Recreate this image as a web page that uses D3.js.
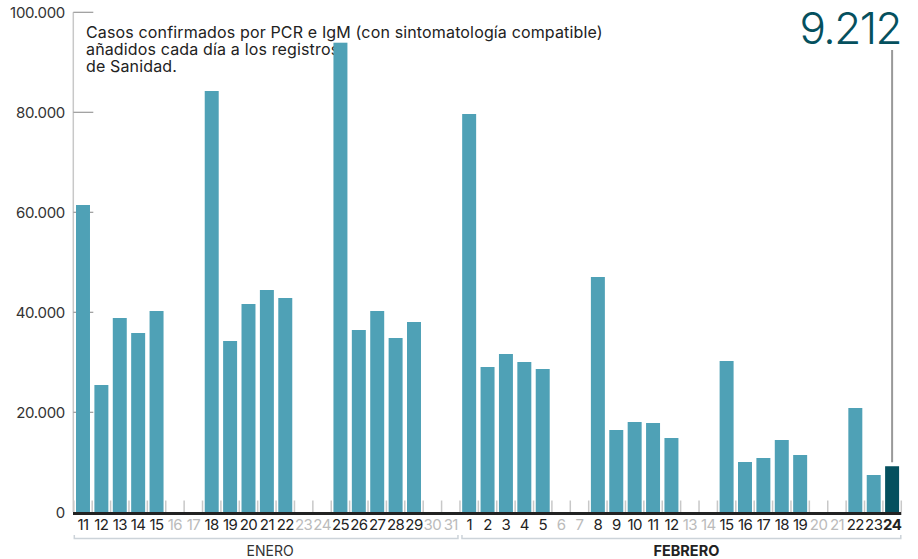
<!DOCTYPE html>
<html>
<head>
<meta charset="utf-8">
<script src="https://cdn.jsdelivr.net/npm/d3@7"></script>
<style>
  html, body { margin: 0; padding: 0; background: #fff; }
  svg { display: block; font-family: Inter, Roboto, "Noto Sans", sans-serif; }
</style>
</head>
<body>
<svg id="chart" width="918" height="559"></svg>
<script>
// ---- data ----
const days = ["11","12","13","14","15","16","17","18","19","20","21","22","23","24","25","26","27","28","29","30","31",
              "1","2","3","4","5","6","7","8","9","10","11","12","13","14","15","16","17","18","19","20","21","22","23","24"];
const months = ["ENERO","ENERO","ENERO","ENERO","ENERO","ENERO","ENERO","ENERO","ENERO","ENERO","ENERO","ENERO","ENERO","ENERO","ENERO","ENERO","ENERO","ENERO","ENERO","ENERO","ENERO",
                "FEBRERO","FEBRERO","FEBRERO","FEBRERO","FEBRERO","FEBRERO","FEBRERO","FEBRERO","FEBRERO","FEBRERO","FEBRERO","FEBRERO","FEBRERO","FEBRERO","FEBRERO","FEBRERO","FEBRERO","FEBRERO","FEBRERO","FEBRERO","FEBRERO","FEBRERO","FEBRERO","FEBRERO"];
const cases = [61460, 25460, 38860, 35860, 40260, 0, 0, 84260, 34260, 41660, 44460, 42860, 0, 0, 93920, 36460, 40260, 34860, 38060, 0, 0,
               79660, 29060, 31660, 30060, 28660, 0, 0, 47060, 16460, 18060, 17860, 14860, 0, 0, 30260, 10060, 10860, 14460, 11460, 0, 0, 20860, 7460, 9212];
const weekend = [false,false,false,false,false,true,true,false,false,false,false,false,true,true,false,false,false,false,false,true,true,
                 false,false,false,false,false,true,true,false,false,false,false,false,true,true,false,false,false,false,false,true,true,false,false,false];
const yTicks = [0, 20000, 40000, 60000, 80000, 100000];
const yTickLabels = ["0", "20.000", "40.000", "60.000", "80.000", "100.000"];
const monthNames = ["ENERO", "FEBRERO"];
const noteLines = ["Casos confirmados por PCR e IgM (con sintomatología compatible)",
                   "añadidos cada día a los registros",
                   "de Sanidad."];
const highlightLabel = "9.212";

// ---- layout ----
const svg = d3.select("#chart");
const idx = d3.range(days.length);
const x = d3.scaleBand().domain(idx).range([73.8, 901.3]).paddingInner(0.24).paddingOuter(0.12);
const y = d3.scaleLinear().domain([0, 100000]).range([512.3, 12.3]);
const step = x.step();
const x0 = 73.8;

const C_BAR = "#4fa1b6", C_HI = "#05505e";

// y axis line
svg.append("line").attr("x1", 73.3).attr("x2", 73.3).attr("y1", y(100000)).attr("y2", 512)
  .attr("stroke", "#c8c8c8").attr("stroke-width", 1.5);

// y ticks & labels
const yAxis = svg.append("g");
yTicks.forEach((t, i) => {
  if (t > 0) {
    yAxis.append("line").attr("x1", 73.3).attr("x2", 93.3).attr("y1", y(t)).attr("y2", y(t))
      .attr("stroke", "#999").attr("stroke-width", 1.2);
  }
  yAxis.append("text").attr("x", 65).attr("y", y(t)).attr("dy", "0.36em")
    .attr("text-anchor", "end").attr("font-size", 15).attr("fill", "#333")
    .attr("letter-spacing", -0.3)
    .text(yTickLabels[i]);
});

// annotation text (drawn beneath bars)
const note = svg.append("text").attr("x", 86).attr("font-size", 16).attr("fill", "#222")
  .attr("letter-spacing", 0.15);
noteLines.forEach((l, i) => {
  note.append("tspan").attr("x", 86).attr("y", 37.5 + i * 17.2).text(l);
});

// slot boundary ticks
d3.range(days.length + 1).forEach(i => {
  const xx = x0 + i * step;
  svg.append("line").attr("x1", xx).attr("x2", xx).attr("y1", 500.5).attr("y2", 512)
    .attr("stroke", "#c8c8c8").attr("stroke-width", 1.5);
});

// bars
svg.append("g").selectAll("rect")
  .data(idx.filter(i => cases[i] > 0))
  .join("rect")
  .attr("x", i => x(i))
  .attr("width", x.bandwidth())
  .attr("y", i => y(cases[i]))
  .attr("height", i => y(0) - y(cases[i]))
  .attr("fill", i => i === days.length - 1 ? C_HI : C_BAR);

// baseline
svg.append("line").attr("x1", 73).attr("x2", 901.3).attr("y1", 513.6).attr("y2", 513.6)
  .attr("stroke", "#222").attr("stroke-width", 3);

// day labels
svg.append("g").selectAll("text")
  .data(idx)
  .join("text")
  .attr("x", i => x(i) + x.bandwidth() / 2)
  .attr("y", 529.5)
  .attr("text-anchor", "middle")
  .attr("font-size", 15)
  .attr("letter-spacing", -0.6)
  .attr("font-weight", i => i === days.length - 1 ? 700 : 400)
  .attr("fill", i => weekend[i] ? "#bbb" : "#222")
  .text(i => days[i]);

// month brackets
monthNames.forEach((m, k) => {
  const ids = idx.filter(i => months[i] === m);
  const a = x0 + d3.min(ids) * step + (k === 0 ? 0.5 : 2);
  const b = x0 + (d3.max(ids) + 1) * step - (k === 0 ? 2 : 0.5);
  svg.append("path")
    .attr("d", `M${a},535V538.5H${b}V535`)
    .attr("fill", "none").attr("stroke", "#ccd3d9").attr("stroke-width", 1.5);
  svg.append("text")
    .attr("x", (a + b) / 2 + (k === 0 ? 4 : 5))
    .attr("y", 556)
    .attr("text-anchor", "middle")
    .attr("font-size", k === 0 ? 14 : 14.5)
    .attr("font-weight", k === 0 ? 400 : 700)
    .attr("fill", k === 0 ? "#333" : "#222")
    .text(m);
});

// highlight leader & number
const last = days.length - 1;
const cx = x(last) + x.bandwidth() / 2;
svg.append("line").attr("x1", cx).attr("x2", cx).attr("y1", 50).attr("y2", y(cases[last]) - 4)
  .attr("stroke", "#999").attr("stroke-width", 2);
svg.append("text").attr("x", 901).attr("y", 43.5)
  .attr("text-anchor", "end").attr("font-size", 44).attr("font-weight", 300)
  .attr("letter-spacing", -1.5)
  .attr("fill", C_HI).text(highlightLabel);
</script>
</body>
</html>
